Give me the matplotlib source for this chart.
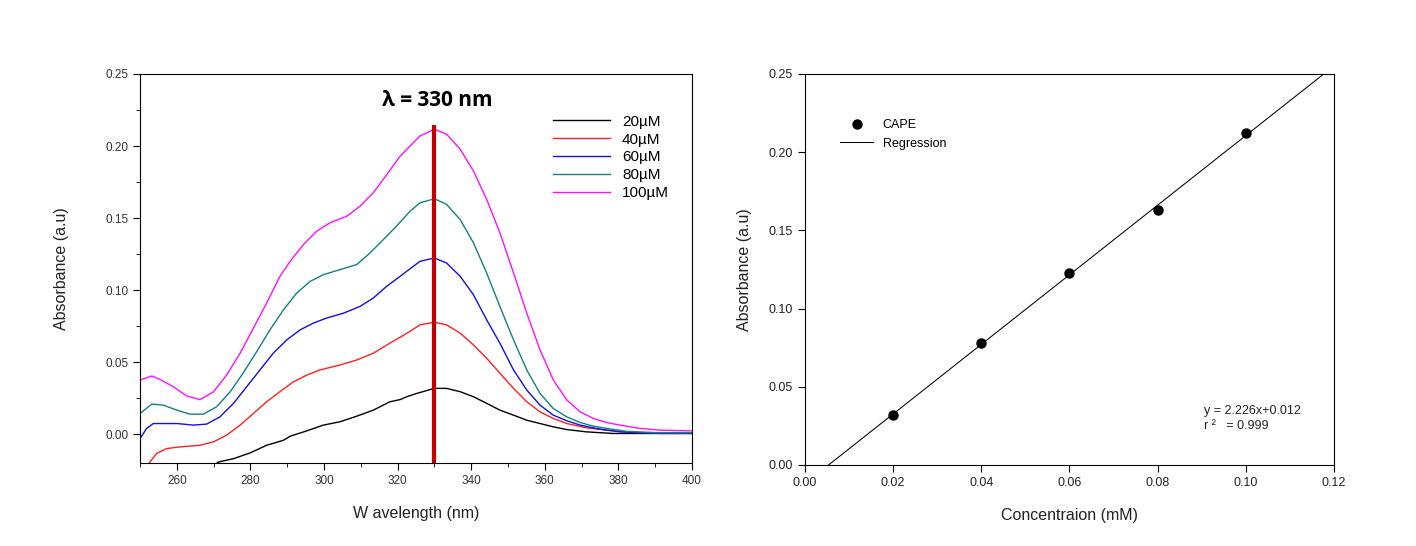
import numpy as np
import matplotlib
matplotlib.use("Agg")
import matplotlib.pyplot as plt
from matplotlib.ticker import MultipleLocator

plt.rcParams['font.family'] = ['Liberation Sans', 'DejaVu Sans']

# ---------------- data: spectra (wavelength nm, absorbance) ----------------
wl_100 = [250, 253.2, 255.4, 259, 262.7, 266.3, 270, 273.5, 277.2, 280.8,
          284.4, 288, 290.8, 294.4, 298, 301.6, 306.2, 309.8, 313.4, 317,
          320.7, 324.3, 326.1, 330, 333.3, 337, 340.6, 344.2, 347.8, 351.5,
          355.1, 358.7, 362.3, 366, 369.6, 373.2, 376.8, 380.4, 385.9, 391.3, 400]
a_100 = [0.0376, 0.0404, 0.038, 0.033, 0.0265, 0.024, 0.0295, 0.041, 0.0562, 0.0736,
         0.091, 0.1095, 0.120, 0.1316, 0.1409, 0.1467, 0.1513, 0.1583, 0.1676, 0.180,
         0.193, 0.2024, 0.207, 0.2117, 0.2082, 0.1978, 0.1827, 0.163, 0.1397, 0.1119,
         0.084, 0.0585, 0.0376, 0.0237, 0.0155, 0.0109, 0.0081, 0.0063, 0.004, 0.0028, 0.0023]

wl_80 = [250, 253.2, 256.3, 260, 263.6, 267.2, 270.8, 274.5, 278, 281.7,
         285.3, 289, 292.6, 296.2, 299.8, 304.3, 308.9, 312.5, 316.1, 319.7,
         323.4, 326.1, 330, 333.3, 337, 340.6, 344.2, 347.8, 351.5, 355.1,
         358.7, 362.3, 366, 369.6, 373.2, 376.8, 382.2, 391.3, 400]
a_80 = [0.0144, 0.0209, 0.0202, 0.0167, 0.0139, 0.0139, 0.019, 0.0295, 0.0423, 0.0573,
        0.0724, 0.0864, 0.098, 0.106, 0.1107, 0.1142, 0.1177, 0.1258, 0.135, 0.1444,
        0.1548, 0.1606, 0.1634, 0.1595, 0.149, 0.1328, 0.1119, 0.0886, 0.0654, 0.0446,
        0.0283, 0.0178, 0.012, 0.0081, 0.0056, 0.004, 0.002, 0.0009, 0.0009]

wl_60 = [250, 251.8, 253.6, 260, 264.5, 268.1, 271.7, 275.4, 279, 282.6,
         286.2, 289.9, 293.5, 297.1, 300.7, 305.3, 309.8, 313.4, 317, 320.7,
         324.3, 326.1, 330, 333.3, 337, 340.6, 344.2, 347.8, 351.5, 355.1,
         358.7, 362.3, 366, 369.6, 375, 380.4, 391.3, 400]
a_60 = [-0.003, 0.004, 0.0074, 0.0074, 0.0063, 0.007, 0.012, 0.0214, 0.033, 0.0446,
        0.0562, 0.0655, 0.0724, 0.0771, 0.0806, 0.084, 0.0887, 0.0945, 0.1026, 0.1096,
        0.1166, 0.120, 0.1223, 0.1188, 0.1096, 0.0968, 0.0794, 0.0631, 0.0446, 0.0306,
        0.0202, 0.0132, 0.0093, 0.0063, 0.0035, 0.0016, 0.0005, 0.0005]

wl_40 = [251, 252.7, 254.5, 257.2, 260.9, 266.3, 270, 273.5, 277.2, 280.8,
         284.4, 288, 291.7, 295.3, 298.9, 304.3, 308.9, 313.4, 317.9, 322.5,
         326.1, 330, 333.3, 337, 340.6, 344.2, 347.8, 351.5, 355.1, 358.7,
         362.3, 366, 371.4, 376.8, 384.1, 400]
a_40 = [-0.025, -0.0193, -0.0134, -0.010, -0.0088, -0.0077, -0.0053, -0.0007, 0.0063, 0.0144,
        0.0225, 0.0295, 0.0364, 0.041, 0.0446, 0.048, 0.0515, 0.0562, 0.0632, 0.070,
        0.0759, 0.0777, 0.0759, 0.0701, 0.062, 0.0527, 0.0423, 0.0318, 0.0225, 0.0155,
        0.0109, 0.0074, 0.0044, 0.0028, 0.0012, 0.0009]

wl_20 = [268, 271.3, 275.4, 279.9, 284.4, 289, 290.8, 295.3, 299.8, 304.3,
         308.9, 313.4, 317.9, 320.65, 322.5, 325.2, 330, 333.3, 337, 340.6,
         344.2, 347.8, 351.5, 355.1, 358.7, 362.3, 366, 371.4, 378.6, 400]
a_20 = [-0.025, -0.0193, -0.017, -0.013, -0.0077, -0.0042, -0.0014, 0.0023, 0.0063, 0.0086,
        0.0125, 0.0167, 0.0225, 0.024, 0.026, 0.0283, 0.0318, 0.0318, 0.0295, 0.026,
        0.0214, 0.0167, 0.0132, 0.0097, 0.0074, 0.0051, 0.0032, 0.0016, 0.0005, 0.0005]

series_labels = ['20µM', '40µM', '60µM', '80µM', '100µM']
series_colors = ['#000000', '#ff2020', '#1010e0', '#148080', '#ff10ff']
peak_wl = 330

# ---------------- data: calibration ----------------
conc = [0.02, 0.04, 0.06, 0.08, 0.10]
absb = [0.032, 0.078, 0.123, 0.163, 0.212]
eq_text = 'y = 2.226x+0.012\nr ²   = 0.999'

fig = plt.figure(figsize=(14.16, 5.46), dpi=100)
ax1 = fig.add_axes([0.0989, 0.152, 0.3898, 0.7125])
ax2 = fig.add_axes([0.5685, 0.1484, 0.3735, 0.7161])

# ---- left panel ----
wls = [wl_20, wl_40, wl_60, wl_80, wl_100]
abss = [a_20, a_40, a_60, a_80, a_100]
for x, y, lab, c in zip(wls, abss, series_labels, series_colors):
    ax1.plot(x, y, color=c, lw=1.0, label=lab)
ax1.plot([peak_wl, peak_wl], [-0.02, 0.2146], color='#c00000', lw=3, solid_capstyle='butt')
ax1.text(330.8, 0.2315, 'λ = 330 nm', ha='center', va='center', fontsize=15,
         fontweight='bold', family=['Open Sans', 'DejaVu Sans'])
ax1.set_xlim(250, 400)
ax1.set_ylim(-0.02, 0.25)
ax1.xaxis.set_minor_locator(MultipleLocator(10))
ax1.yaxis.set_minor_locator(MultipleLocator(0.025))
ax1.set_xticks([260, 280, 300, 320, 340, 360, 380, 400])
ax1.set_yticks([0.0, 0.05, 0.10, 0.15, 0.20, 0.25])
ax1.set_yticklabels(['0.00', '0.05', '0.10', '0.15', '0.20', '0.25'])
ax1.tick_params(axis='both', which='major', direction='out', length=5, labelsize=8.5,
                labelcolor='#333333')
ax1.tick_params(axis='both', which='minor', direction='out', length=3)
ax1.set_xlabel('W avelength (nm)', fontsize=11.5, color='#222222', labelpad=14)
ax1.set_ylabel('Absorbance (a.u)', fontsize=11.5, color='#222222', labelpad=26)
ax1.legend(loc='upper left', bbox_to_anchor=(0.735, 0.915), frameon=False,
           fontsize=11, handlelength=3.7, handletextpad=0.8, labelspacing=0.25,
           borderpad=0)

# ---- right panel ----
slope, intercept = np.polyfit(conc, absb, 1)
xr = np.array([0.0, 0.12])
ax2.plot(xr, slope * xr + intercept, color='black', lw=0.75, label='Regression')
ax2.plot(conc, absb, 'o', color='black', ms=6.5, label='CAPE')
ax2.set_xlim(0, 0.12)
ax2.set_ylim(0, 0.25)
ax2.set_xticks([0.0, 0.02, 0.04, 0.06, 0.08, 0.10, 0.12])
ax2.set_xticklabels(['0.00', '0.02', '0.04', '0.06', '0.08', '0.10', '0.12'])
ax2.set_yticks([0.0, 0.05, 0.10, 0.15, 0.20, 0.25])
ax2.set_yticklabels(['0.00', '0.05', '0.10', '0.15', '0.20', '0.25'])
ax2.tick_params(axis='both', direction='out', length=5, labelsize=9, labelcolor='#222222')
ax2.set_xlabel('Concentraion (mM)', fontsize=11.5, color='#222222', labelpad=14)
ax2.set_ylabel('Absorbance (a.u)', fontsize=11.5, color='#222222', labelpad=12)
h, l = ax2.get_legend_handles_labels()
ax2.legend([h[1], h[0]], [l[1], l[0]], loc='upper left', bbox_to_anchor=(0.055, 0.9),
           frameon=False, fontsize=9, handlelength=2.6, handletextpad=0.8,
           labelspacing=0.5, borderpad=0)
ax2.text(0.0905, 0.0295, eq_text, fontsize=9, va='center', ha='left', color='#222222',
         linespacing=1.3)

fig.savefig('out.png', dpi=100)
